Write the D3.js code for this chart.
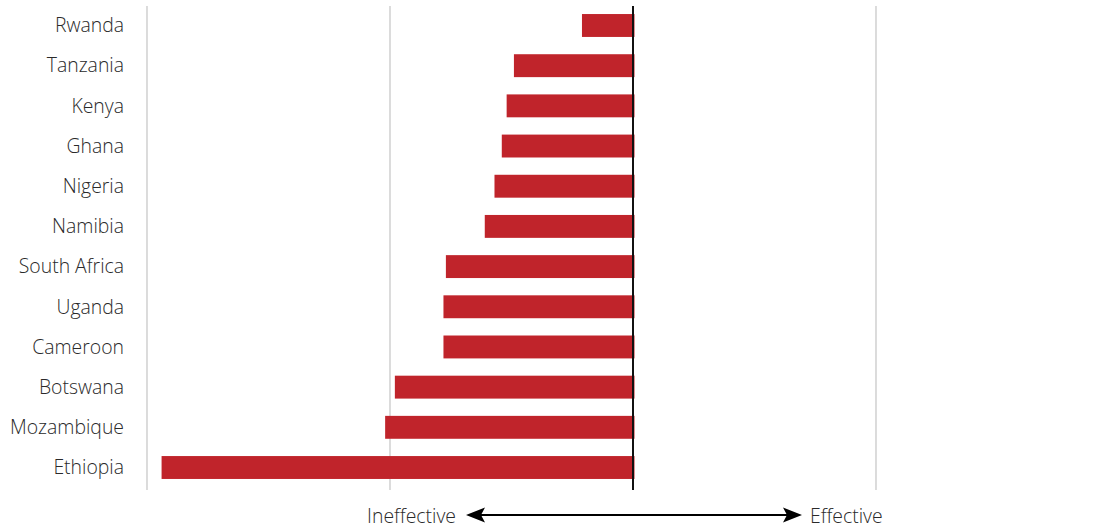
<!DOCTYPE html>
<html>
<head>
<meta charset="utf-8">
<script src="https://cdn.jsdelivr.net/npm/d3@7"></script>
<style>
  html, body { margin: 0; padding: 0; background: #fff; }
  svg { display: block; }
  text { font-family: "Open Sans", "Noto Sans", sans-serif; font-weight: 300; }
</style>
</head>
<body>
<svg id="chart" width="1118" height="528"></svg>
<script>
// Countries, top to bottom
const countries = ["Rwanda", "Tanzania", "Kenya", "Ghana", "Nigeria", "Namibia",
  "South Africa", "Uganda", "Cameroon", "Botswana", "Mozambique", "Ethiopia"];
// Effectiveness score (negative = ineffective)
const scores = [-0.21, -0.49, -0.52, -0.54, -0.57, -0.61,
  -0.77, -0.78, -0.78, -0.98, -1.02, -1.94];
// Gridline positions on the score axis
const gridTicks = [-2, -1, 0, 1];
const axisLabels = ["Ineffective", "Effective"];

const fontSize = 19.4;
const textColor = "#2a2a2a";

const svg = d3.select("#chart");

const x = d3.scaleLinear().domain([-2, 1]).range([147, 876]);
const y = d3.scaleBand().domain(countries).range([5.4, 487.6]).paddingInner(0.43).paddingOuter(0.215);

// Vertical gridlines
svg.append("g").selectAll("line").data(gridTicks).join("line")
  .attr("x1", d => x(d)).attr("x2", d => x(d))
  .attr("y1", 6).attr("y2", 490)
  .attr("stroke", "#c4c4c4").attr("stroke-width", 1.2);

// Bars
svg.append("g").selectAll("rect").data(countries).join("rect")
  .attr("x", (d, i) => x(scores[i]))
  .attr("width", (d, i) => x(0) + 1.5 - x(scores[i]))
  .attr("y", d => y(d))
  .attr("height", y.bandwidth())
  .attr("fill", "#c0242b");

// Zero line
svg.append("line")
  .attr("x1", x(0)).attr("x2", x(0))
  .attr("y1", 6).attr("y2", 490)
  .attr("stroke", "#111").attr("stroke-width", 2);

// Country labels
svg.append("g").selectAll("text").data(countries).join("text")
  .attr("x", 124)
  .attr("y", d => y(d) + y.bandwidth() / 2)
  .attr("dy", "0.35em")
  .attr("text-anchor", "end")
  .attr("font-size", fontSize)
  .attr("fill", textColor)
  .text(d => d);

// Double-headed arrow under the axis
const ay = 515;
const tipL = 466, tipR = 802, headLen = 19, headHalf = 7.5, notch = 4;
svg.append("line")
  .attr("x1", tipL + headLen - notch).attr("x2", tipR - headLen + notch)
  .attr("y1", ay).attr("y2", ay)
  .attr("stroke", "#000").attr("stroke-width", 2);
svg.append("path")
  .attr("d", `M${tipL},${ay} L${tipL + headLen},${ay - headHalf} L${tipL + headLen - notch},${ay} L${tipL + headLen},${ay + headHalf} Z`)
  .attr("fill", "#000");
svg.append("path")
  .attr("d", `M${tipR},${ay} L${tipR - headLen},${ay - headHalf} L${tipR - headLen + notch},${ay} L${tipR - headLen},${ay + headHalf} Z`)
  .attr("fill", "#000");

svg.append("text")
  .attr("x", 456).attr("y", ay + 1.5).attr("dy", "0.35em")
  .attr("text-anchor", "end")
  .attr("font-size", fontSize).attr("fill", textColor)
  .text(axisLabels[0]);

svg.append("text")
  .attr("x", 810).attr("y", ay + 1.5).attr("dy", "0.35em")
  .attr("text-anchor", "start")
  .attr("font-size", fontSize).attr("fill", textColor)
  .text(axisLabels[1]);
</script>
</body>
</html>
